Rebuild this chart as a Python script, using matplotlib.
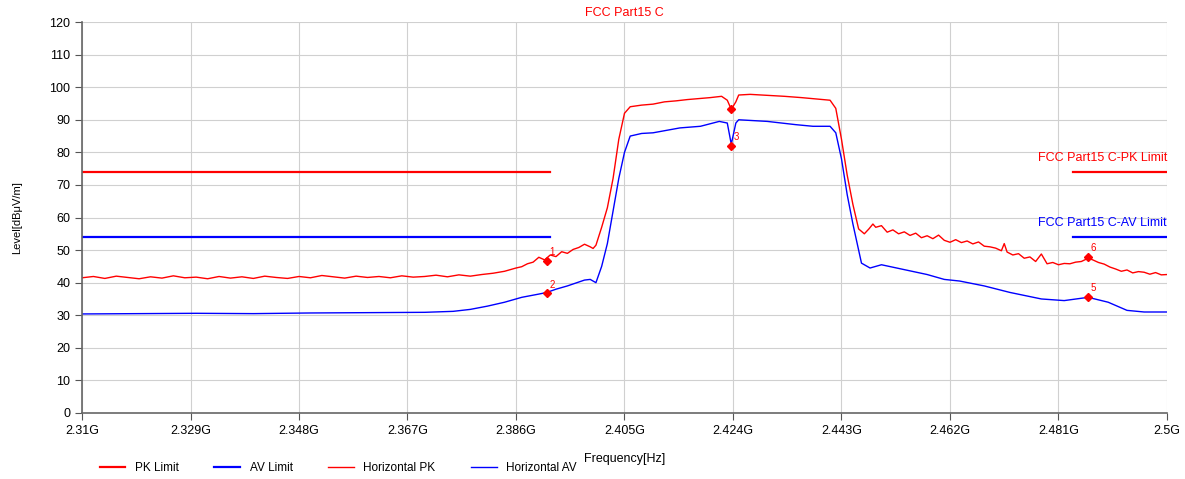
import matplotlib
matplotlib.use('Agg')
import matplotlib.pyplot as plt

plt.rcParams['font.family'] = ['Liberation Sans', 'DejaVu Sans']

# Frequencies in GHz, levels in dBuV/m
pk_freq = [2.310, 2.312, 2.314, 2.316, 2.318, 2.320, 2.322, 2.324, 2.326, 2.328,
           2.330, 2.332, 2.334, 2.336, 2.338, 2.340, 2.342, 2.344, 2.346, 2.348,
           2.350, 2.352, 2.354, 2.356, 2.358, 2.360, 2.362, 2.364, 2.366, 2.368,
           2.370, 2.372, 2.374, 2.376, 2.378, 2.380, 2.382, 2.384, 2.386, 2.387,
           2.388, 2.389, 2.390, 2.391, 2.392, 2.393, 2.394, 2.395, 2.396, 2.397,
           2.398, 2.399, 2.3995, 2.400, 2.401, 2.402, 2.403, 2.404, 2.405, 2.406,
           2.408, 2.410, 2.412, 2.414, 2.416, 2.418, 2.420, 2.422, 2.423, 2.4237,
           2.4245, 2.425, 2.427, 2.430, 2.433, 2.436, 2.439, 2.441, 2.442, 2.443,
           2.444, 2.445, 2.446, 2.447, 2.4478, 2.4485, 2.449, 2.450, 2.451, 2.452,
           2.453, 2.454, 2.455, 2.456, 2.457, 2.458, 2.459, 2.460, 2.461, 2.462,
           2.463, 2.464, 2.465, 2.466, 2.467, 2.468, 2.469, 2.470, 2.471, 2.4715,
           2.472, 2.473, 2.474, 2.475, 2.476, 2.477, 2.478, 2.479, 2.480, 2.481,
           2.482, 2.483, 2.484, 2.485, 2.4862, 2.487, 2.488, 2.489, 2.490, 2.491,
           2.492, 2.493, 2.494, 2.495, 2.496, 2.497, 2.498, 2.499, 2.500]
pk_level = [41.5, 41.9, 41.3, 42.0, 41.6, 41.2, 41.8, 41.4, 42.1, 41.5,
            41.7, 41.2, 41.9, 41.4, 41.8, 41.3, 42.0, 41.6, 41.3, 41.9,
            41.5, 42.2, 41.8, 41.4, 42.0, 41.6, 41.9, 41.5, 42.1, 41.7,
            41.9, 42.3, 41.8, 42.4, 42.0, 42.5, 42.9, 43.5, 44.5, 44.9,
            45.8, 46.3, 47.8, 47.0, 48.5, 48.0, 49.5, 49.0, 50.2, 50.8,
            51.8, 51.0, 50.5, 51.5, 57.0, 63.0, 72.0, 84.0, 92.0, 94.0,
            94.5, 94.8, 95.5, 95.8, 96.2, 96.5, 96.8, 97.2, 96.0, 93.2,
            95.5, 97.6, 97.8, 97.5, 97.2, 96.8, 96.3, 96.0, 93.5, 84.0,
            73.0, 64.0, 56.5, 55.0, 56.5, 58.0, 57.0, 57.5, 55.5, 56.2,
            55.0, 55.6, 54.5, 55.2, 53.8, 54.4, 53.5, 54.6, 53.0, 52.4,
            53.2, 52.3, 52.8, 51.9, 52.5, 51.2, 51.0, 50.6, 49.8, 52.0,
            49.4, 48.5, 48.9, 47.5, 47.9, 46.5, 48.8, 45.8, 46.2, 45.5,
            45.9, 45.8, 46.3, 46.5, 47.5, 47.0, 46.2, 45.7, 44.8, 44.2,
            43.5, 43.9, 43.0, 43.4, 43.2, 42.6, 43.1, 42.4, 42.5]

av_freq = [2.310, 2.320, 2.330, 2.340, 2.350, 2.360, 2.370, 2.375, 2.378, 2.381,
           2.384, 2.387, 2.390, 2.3914, 2.393, 2.395, 2.397, 2.398, 2.399, 2.400,
           2.401, 2.402, 2.403, 2.404, 2.405, 2.406, 2.408, 2.410, 2.4147, 2.4183,
           2.4216, 2.423, 2.4237, 2.4245, 2.425, 2.430, 2.435, 2.438, 2.441, 2.442,
           2.443, 2.444, 2.445, 2.446, 2.4465, 2.448, 2.450, 2.454, 2.458, 2.461,
           2.4637, 2.468, 2.4725, 2.478, 2.482, 2.4862, 2.4897, 2.493, 2.496, 2.500]
av_level = [30.4, 30.5, 30.6, 30.5, 30.7, 30.8, 30.9, 31.2, 31.8, 32.8,
            34.0, 35.5, 36.5, 37.0, 38.0, 39.0, 40.2, 40.8, 41.0, 40.0,
            45.0, 52.0, 62.0, 72.0, 80.0, 85.0, 85.8, 86.0, 87.5, 88.0,
            89.5, 89.0, 82.5, 89.0, 90.0, 89.5, 88.5, 88.0, 88.0, 86.0,
            78.0, 67.0, 58.0, 50.0, 46.0, 44.5, 45.5, 44.0, 42.5, 41.0,
            40.5, 39.0, 37.0, 35.0, 34.5, 35.5, 34.0, 31.5, 31.0, 31.0]

# limit lines (restricted bands)
limit_bands = [(2.310, 2.392), (2.4835, 2.500)]
pk_limit = 74
av_limit = 54

# marker points
mark_labels_pk = ['1', '', '6']
mark_labels_av = ['2', '3', '5']
mark_freq = [2.3914, 2.4237, 2.4862]
mark_pk = [46.8, 93.4, 48.0]
mark_av = [36.8, 82.0, 35.6]

fig = plt.figure(figsize=(11.85, 4.79), dpi=100)
ax = fig.add_axes([0.0692, 0.1378, 0.9156, 0.8162])

for i, (f0, f1) in enumerate(limit_bands):
    ax.plot([f0, f1], [pk_limit, pk_limit], color='#ff0000', lw=1.6,
            label='PK Limit' if i == 0 else None)
for i, (f0, f1) in enumerate(limit_bands):
    ax.plot([f0, f1], [av_limit, av_limit], color='#0000ff', lw=1.6,
            label='AV Limit' if i == 0 else None)

ax.plot(pk_freq, pk_level, color='#ff0000', lw=1.0, label='Horizontal PK')
ax.plot(av_freq, av_level, color='#0000ff', lw=1.0, label='Horizontal AV')

ax.plot(mark_freq, mark_pk, 'D', color='#ff0000', ms=4, ls='none')
ax.plot(mark_freq, mark_av, 'D', color='#ff0000', ms=4, ls='none')
for lab, f, v in zip(mark_labels_pk, mark_freq, mark_pk):
    if lab:
        ax.annotate(lab, (f, v), xytext=(2, 4), textcoords='offset points',
                    color='#ff0000', fontsize=7)
for lab, f, v in zip(mark_labels_av, mark_freq, mark_av):
    ax.annotate(lab, (f, v), xytext=(2, 4), textcoords='offset points',
                color='#ff0000', fontsize=7)

ax.text(2.5, 76.5, 'FCC Part15 C-PK Limit', color='#ff0000', fontsize=9,
        ha='right', va='bottom')
ax.text(2.5, 56.5, 'FCC Part15 C-AV Limit', color='#0000ff', fontsize=9,
        ha='right', va='bottom')

ax.set_xlim(2.31, 2.5)
ax.set_ylim(0, 120)
xticks = [2.31, 2.329, 2.348, 2.367, 2.386, 2.405, 2.424, 2.443, 2.462, 2.481, 2.5]
ax.set_xticks(xticks)
ax.set_xticklabels([f'{t:g}G' for t in xticks], fontsize=9)
ax.set_yticks(range(0, 121, 10))
ax.tick_params(axis='y', labelsize=9, length=5, color='#555555')
ax.tick_params(axis='x', length=5, color='#555555')
ax.grid(True, color='#d0d0d0', lw=0.8)
for s in ['top', 'right']:
    ax.spines[s].set_visible(False)
for s in ['left', 'bottom']:
    ax.spines[s].set_color('#666666')
    ax.spines[s].set_linewidth(1.2)

ax.set_title('FCC Part15 C', color='#ff0000', fontsize=9, pad=4)
ax.set_ylabel('Level[dBμV/m]', fontsize=8)
ax.yaxis.set_label_coords(-0.055, 0.5)
fig.text(0.527, 0.035, 'Frequency[Hz]', fontsize=9, ha='center')

fig.legend(loc='lower left', bbox_to_anchor=(0.075, -0.012), ncol=4, frameon=False,
           fontsize=8.5, handlelength=2.2, columnspacing=3.0)

fig.savefig('out.png', dpi=100)
